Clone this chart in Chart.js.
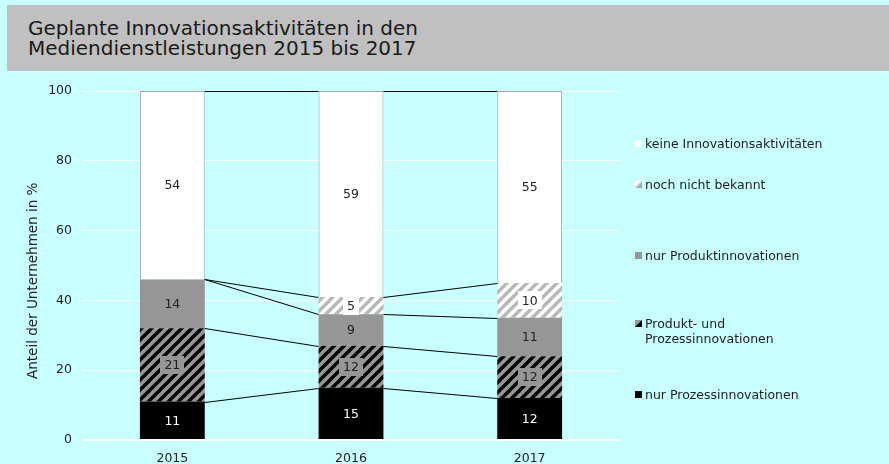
<!DOCTYPE html>
<html>
<head>
<meta charset="utf-8">
<script src="https://cdn.jsdelivr.net/npm/chart.js@4"></script>
<style>
  html, body { margin:0; padding:0; background:#c8ffff; width:889px; height:464px; overflow:hidden; font-family:"DejaVu Sans", Verdana, sans-serif; }
  #wrap { position:relative; width:889px; height:464px; }
  #c { position:absolute; left:0; top:0; }
  #title { position:absolute; left:7px; top:5px; width:882px; height:66px; background:#c0c0c0; box-sizing:border-box; padding:13px 0 0 21px; font-size:20px; line-height:20px; color:#1a1a1a; }
  #ytitle { position:absolute; left:25px; top:178px; height:206px; writing-mode:vertical-rl; transform:rotate(180deg); font-size:13.5px; line-height:15px; color:#222; white-space:nowrap; text-align:center; font-weight:normal; }
  .leg { position:absolute; left:635px; font-size:12.5px; line-height:15px; color:#222; white-space:nowrap; }
  .leg .m { position:absolute; left:0; top:4px; width:7px; height:7px; }
  .leg .t { position:absolute; left:10px; top:0; }
</style>
</head>
<body>
<div id="wrap">
  <canvas id="c" width="889" height="464"></canvas>
  <div id="title">Geplante Innovationsaktivitäten in den<br>Mediendienstleistungen 2015 bis 2017</div>
  <div id="ytitle">Anteil der Unternehmen in %</div>
  <div id="legend"></div>
</div>
<script>
// ---- data ----
const categories = ['2015', '2016', '2017'];
const nurProzess = [11, 15, 12];
const produktUndProzess = [21, 12, 12];
const nurProdukt = [14, 9, 11];
const nochNichtBekannt = [0, 5, 10];
const keineInnovation = [54, 59, 55];
const seriesNames = ['nur Prozessinnovationen', 'Produkt- und\nProzessinnovationen', 'nur Produktinnovationen', 'noch nicht bekannt', 'keine Innovationsaktivitäten'];
const yTicks = [0, 20, 40, 60, 80, 100];

// ---- styles ----
function stripePattern(bg, fg, size, w) {
  const c = document.createElement('canvas');
  c.width = size; c.height = size;
  const x = c.getContext('2d');
  x.fillStyle = bg; x.fillRect(0, 0, size, size);
  x.strokeStyle = fg; x.lineWidth = w;
  for (let k = -1; k <= 1; k++) {
    x.beginPath();
    x.moveTo(k * size - 1, size + 1);
    x.lineTo(k * size + size + 1, -1);
    x.stroke();
  }
  return document.getElementById('c').getContext('2d').createPattern(c, 'repeat');
}
const fills = [
  '#000000',
  stripePattern('#969696', '#000000', 10, 3.4),
  '#969696',
  stripePattern('#ffffff', '#b8b8b8', 10, 3.4),
  '#ffffff'
];
const labelColors = ['#ffffff', '#222222', '#222222', '#222222', '#222222'];
const labelBoxes = [null, '#969696', null, '#ffffff', null];
const borderW = [0, 0, 0, 0, 1];

const seriesValues = [nurProzess, produktUndProzess, nurProdukt, nochNichtBekannt, keineInnovation];

const datasets = seriesValues.map((vals, i) => ({
  label: seriesNames[i],
  data: vals,
  backgroundColor: fills[i],
  borderColor: '#a6a6a6',
  borderWidth: borderW[i],
  borderSkipped: 'bottom',
  categoryPercentage: 1,
  barPercentage: 0.363
}));

// series lines between bars
const seriesLines = {
  id: 'seriesLines',
  afterDatasetsDraw(chart) {
    const ctx = chart.ctx, ys = chart.scales.y;
    const n = categories.length;
    const cum = [];
    let run = new Array(n).fill(0);
    seriesValues.forEach(v => { run = run.map((r, i) => r + v[i]); cum.push(run.slice()); });
    const meta0 = chart.getDatasetMeta(0).data;
    const py = v => Math.round(ys.getPixelForValue(v)) + 0.5;
    ctx.save();
    ctx.strokeStyle = '#000'; ctx.lineWidth = 1;
    cum.forEach(c => {
      for (let i = 0; i < n - 1; i++) {
        const a = meta0[i], b = meta0[i + 1];
        ctx.beginPath();
        ctx.moveTo(a.x + a.width / 2, py(c[i]));
        ctx.lineTo(b.x - b.width / 2, py(c[i + 1]));
        ctx.stroke();
      }
    });
    ctx.restore();
  }
};

// data labels
const dataLabels = {
  id: 'dataLabels',
  afterDatasetsDraw(chart) {
    const ctx = chart.ctx;
    ctx.save();
    ctx.font = '12.5px "DejaVu Sans", Verdana, sans-serif';
    ctx.textAlign = 'center'; ctx.textBaseline = 'middle';
    chart.data.datasets.forEach((ds, di) => {
      chart.getDatasetMeta(di).data.forEach((el, i) => {
        const v = ds.data[i];
        if (!v) return;
        const y = (el.y + el.base) / 2;
        const txt = String(v);
        if (labelBoxes[di]) {
          const w = ctx.measureText(txt).width + 8;
          ctx.fillStyle = labelBoxes[di];
          ctx.fillRect(Math.round(el.x - w / 2), Math.round(y - 9), Math.round(w), 18);
        }
        ctx.fillStyle = labelColors[di];
        ctx.fillText(txt, el.x, y + 1);
      });
    });
    ctx.restore();
  }
};

new Chart(document.getElementById('c'), {
  type: 'bar',
  data: { labels: categories, datasets },
  options: {
    responsive: false,
    animation: false,
    devicePixelRatio: 1,
    layout: { padding: { top: 91, right: 270, bottom: 0, left: 0 } },
    plugins: { legend: { display: false }, tooltip: { enabled: false }, title: { display: false } },
    scales: {
      x: {
        stacked: true,
        grid: { display: false, drawTicks: false },
        border: { display: false },
        ticks: { color: '#222', font: { size: 12.5, family: '"DejaVu Sans", Verdana, sans-serif' }, padding: 11 },
        afterFit(s) { s.height = 24; }
      },
      y: {
        stacked: true,
        min: yTicks[0], max: yTicks[yTicks.length - 1],
        ticks: { stepSize: yTicks[1] - yTicks[0], color: '#222', padding: 11, font: { size: 12.5, family: '"DejaVu Sans", Verdana, sans-serif' } },
        grid: { color: '#ffffff', drawTicks: false, lineWidth: c => (c.tick && c.tick.value === 0 ? 2 : 1) },
        border: { display: false },
        afterFit(s) { s.width = 83; }
      }
    }
  },
  plugins: [seriesLines, dataLabels]
});

// legend (HTML, reversed order)
const legendY = [394, 331, 255, 184, 143];
const markers = [
  '#000',
  'linear-gradient(to bottom right, #999 45%, #000 55%)',
  '#969696',
  'linear-gradient(to bottom right, #fff 35%, #aaa 65%)',
  '#fff'
];
const lg = document.getElementById('legend');
seriesNames.forEach((name, i) => {
  const lines = name.split('\n');
  const d = document.createElement('div');
  d.className = 'leg';
  d.style.top = (legendY[i] - lines.length * 7.5) + 'px';
  const m = document.createElement('div');
  m.className = 'm'; m.style.background = markers[i];
  const t = document.createElement('div');
  t.className = 't'; t.innerHTML = lines.join('<br>');
  d.appendChild(m); d.appendChild(t);
  lg.appendChild(d);
});
</script>
</body>
</html>
